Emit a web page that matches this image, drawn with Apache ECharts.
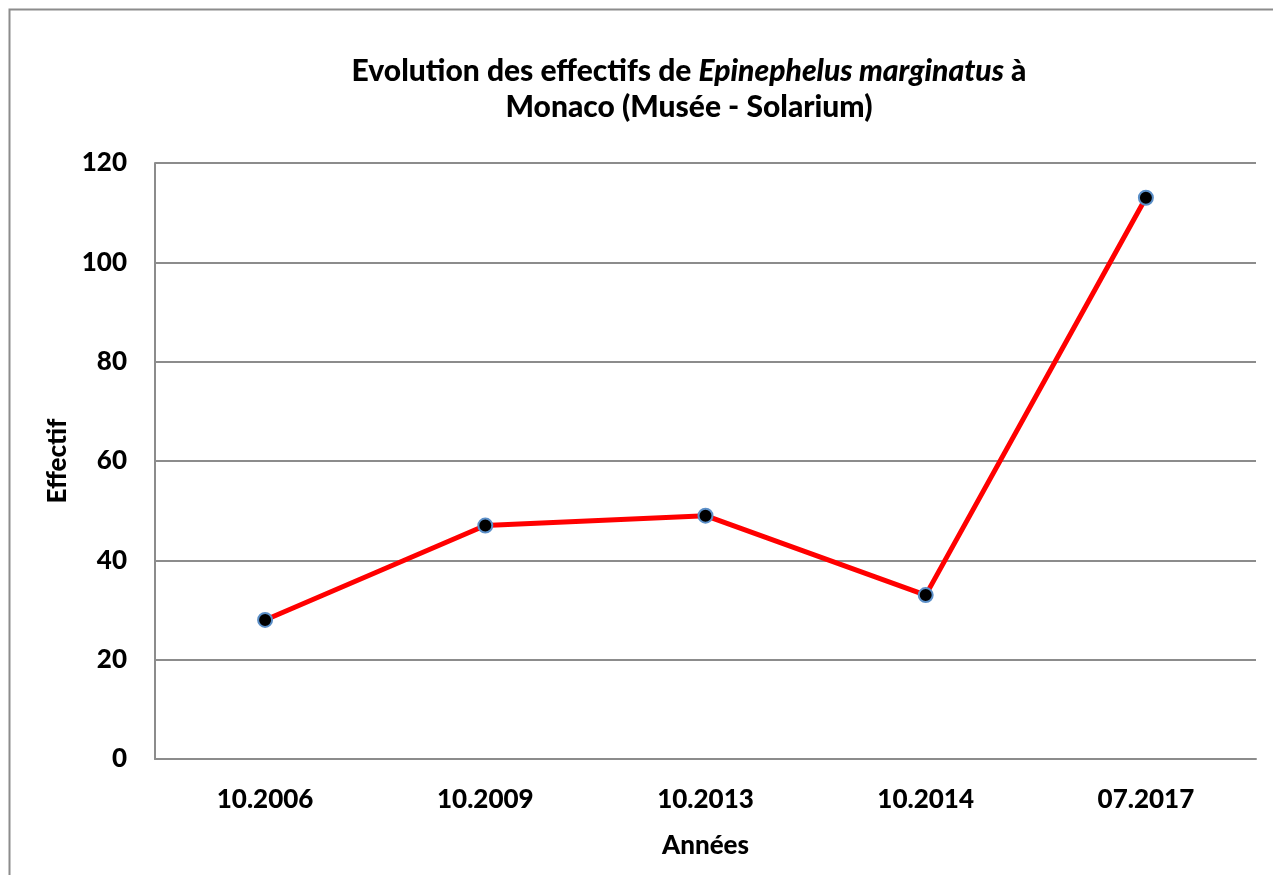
<!DOCTYPE html>
<html>
<head>
<meta charset="utf-8">
<script src="https://cdn.jsdelivr.net/npm/echarts@6/dist/echarts.min.js"></script>
<style>
  html, body { margin: 0; padding: 0; background: #fff; }
  #chart { width: 1273px; height: 875px; }
</style>
</head>
<body>
<div id="chart"></div>
<script>
var categories = ['10.2006', '10.2009', '10.2013', '10.2014', '07.2017'];
var effectif = [28, 47, 49, 33, 113];
var yTicks = [0, 20, 40, 60, 80, 100, 120];

var font = 'Lato, "Open Sans", sans-serif';
var chart = echarts.init(document.getElementById('chart'));

var option = {
	backgroundColor: '#fff',
	animation: false,
	title: {
		text: '{b|Evolution des effectifs de }{i|Epinephelus marginatus}{b| à}\n{b|Monaco (Musée - Solarium)}',
		left: 684,
		top: 48,
		textAlign: 'center',
		textStyle: {
			rich: {
				b: { fontFamily: font, fontWeight: 900, fontSize: 30, color: '#000', lineHeight: 36 },
				i: { fontFamily: font, fontWeight: 900, fontStyle: 'italic', fontSize: 30, color: '#000', lineHeight: 36 }
			}
		}
	},
	grid: { left: 155, top: 163, right: 17, bottom: 116 },
	xAxis: {
		type: 'category',
		data: categories,
		name: 'Années',
		nameLocation: 'middle',
		nameGap: 74,
		nameTextStyle: { fontFamily: font, fontWeight: 900, fontSize: 26, color: '#000' },
		axisLine: { lineStyle: { color: '#8c8c8c', width: 2 } },
		axisTick: { show: false },
		axisLabel: { fontFamily: font, fontWeight: 900, fontSize: 26, color: '#000', margin: 28 }
	},
	yAxis: {
		type: 'value',
		min: yTicks[0],
		max: yTicks[yTicks.length - 1],
		interval: 20,
		name: 'Effectif',
		nameLocation: 'middle',
		nameGap: 82,
		nameRotate: 90,
		nameTextStyle: { fontFamily: font, fontWeight: 900, fontSize: 26, color: '#000' },
		axisLine: { show: true, lineStyle: { color: '#8c8c8c', width: 2 } },
		axisTick: { show: false },
		splitLine: { lineStyle: { color: '#8c8c8c', width: 2 } },
		axisLabel: { fontFamily: font, fontWeight: 900, fontSize: 26, color: '#000', margin: 28 }
	},
	series: [{
		type: 'line',
		data: effectif,
		symbol: 'circle',
		symbolSize: 14,
		lineStyle: { color: '#ff0000', width: 5 },
		itemStyle: { color: '#000', borderColor: '#5b8fc8', borderWidth: 2 }
	}],
	graphic: [{
		type: 'rect',
		shape: { x: 9.5, y: 9.5, width: 1300, height: 900 },
		style: { fill: 'none', stroke: '#8c8c8c', lineWidth: 2 },
		silent: true
	}]
};

chart.setOption(option);
</script>
</body>
</html>
